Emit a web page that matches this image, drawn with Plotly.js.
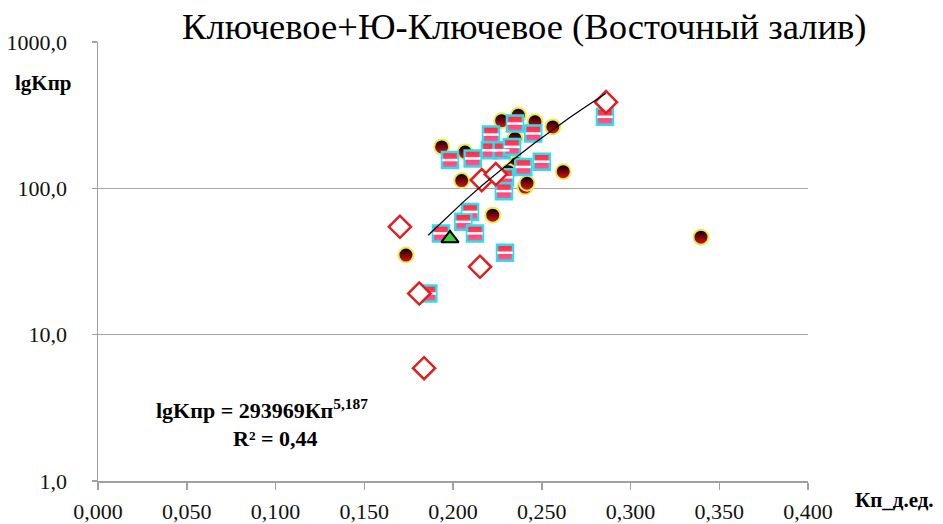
<!DOCTYPE html>
<html>
<head>
<meta charset="utf-8">
<script src="https://cdn.plot.ly/plotly-3.0.1.min.js"></script>
<style>html,body{margin:0;padding:0;background:#fff;}#chart{width:943px;height:524px;}</style>
</head>
<body>
<div id="chart"></div>
<script>
// Series 1: black circles
var circX = [0.1936, 0.2068, 0.2049, 0.2274, 0.2368, 0.2462, 0.2562, 0.2349, 0.2359, 0.2621, 0.2406, 0.2417, 0.2224, 0.1735, 0.3397, 0.2312];
var circY = [192, 177, 113, 290, 316, 285, 263, 219, 148, 130, 102, 108.5, 65.6, 35, 46.4, 130];
// Series 2: striped squares
var sqX = [0.1983, 0.2111, 0.2214, 0.2208, 0.2274, 0.2332, 0.2349, 0.2452, 0.2396, 0.2500, 0.2293, 0.2287, 0.2856, 0.2096, 0.2058, 0.2124, 0.1932, 0.2293, 0.1861];
var sqY = [156, 160, 233, 182, 182, 192, 277, 237, 140, 152, 119, 95.7, 308, 69, 59, 49.2, 49.2, 36.3, 19.1];
// Series 3: red open diamonds
var diaX = [0.1701, 0.2152, 0.1810, 0.1837, 0.2162, 0.2241, 0.2862];
var diaY = [54.6, 29.1, 19.1, 5.9, 113.8, 125, 388];
// Series 4: green triangle
var triX = [0.1983];
var triY = [45.5];
// Power trendline from the chart's own equation: lgKпр = 293969·Кп^5,187
var trendA = 293969, trendB = 5.187;
var trendX = [0.186, 0.196, 0.206, 0.216, 0.226, 0.236, 0.246, 0.256, 0.266, 0.276, 0.286];
var trendY = trendX.map(function (x) { return trendA * Math.pow(x, trendB); });

var yTickVals = [1, 10, 100, 1000];
var yTickText = ['1,0', '10,0', '100,0', '1000,0'];
var xTickVals = [0, 0.05, 0.1, 0.15, 0.2, 0.25, 0.3, 0.35, 0.4];

var serif = "'Liberation Serif', 'DejaVu Serif', serif";

var traces = [
  {x: circX, y: circY, type: 'scatter', mode: 'markers',
   marker: {symbol: 'circle', size: 15, color: '#000000',
            gradient: {type: 'vertical', color: '#e8101a'},
            line: {color: '#e2ee58', width: 2}}},
  {x: sqX, y: sqY, type: 'scatter', mode: 'markers',
   marker: {symbol: 'square', size: 16, color: '#ff2a3a',
            gradient: {type: 'vertical', color: '#ff5a9a'},
            line: {color: '#30dcec', width: 2.5}}},
  {x: sqX, y: sqY, type: 'scatter', mode: 'markers',
   marker: {symbol: 'line-ew', size: 11, line: {color: '#ffffff', width: 2.5}}},
  {x: diaX, y: diaY, type: 'scatter', mode: 'markers',
   marker: {symbol: 'diamond', size: 17, color: '#ffffff',
            line: {color: '#e01e1e', width: 2.5}}},
  {x: triX, y: triY, type: 'scatter', mode: 'markers',
   marker: {symbol: 'triangle-up', size: 15, color: '#3cd23c',
            line: {color: '#000000', width: 2}}},
  {x: trendX, y: trendY, type: 'scatter', mode: 'lines',
   line: {color: '#000000', width: 1.2}}
];

var layout = {
  width: 943, height: 524,
  margin: {l: 98, r: 135, t: 42, b: 43},
  paper_bgcolor: '#ffffff', plot_bgcolor: '#ffffff',
  showlegend: false,
  separators: ', ',
  font: {family: serif, color: '#111111', size: 22},
  title: {text: 'Ключевое+Ю-Ключевое (Восточный залив)',
          font: {family: serif, size: 36.6, color: '#000000'},
          xref: 'container', yref: 'container', x: 0.556, xanchor: 'center',
          y: 0.95, yanchor: 'middle'},
  xaxis: {type: 'linear', range: [0, 0.4], tickvals: xTickVals, tickformat: '.3f',
          showgrid: false, zeroline: false, showline: true, linecolor: '#a0a0a0', linewidth: 1.5,
          ticks: 'outside', ticklen: 7, tickcolor: '#a0a0a0', tickwidth: 1.5,
          ticklabelstandoff: 3,
          tickfont: {family: serif, size: 22, color: '#111111'}},
  yaxis: {type: 'log', range: [0, 3], tickvals: yTickVals, ticktext: yTickText,
          showgrid: true, gridcolor: '#a6a6a6', gridwidth: 1.5, zeroline: false,
          showline: true, linecolor: '#a0a0a0', linewidth: 1.5,
          ticks: 'outside', ticklen: 5, tickcolor: '#a0a0a0', tickwidth: 1.5,
          ticklabelstandoff: 20,
          tickfont: {family: serif, size: 22, color: '#111111'}},
  annotations: [
    {text: '<b>lgKпр</b>', xref: 'paper', yref: 'paper', x: -0.12, y: 0.906,
     xanchor: 'left', yanchor: 'middle', showarrow: false,
     font: {family: serif, size: 21, color: '#000000'}},
    {text: '<b>Кп_д.ед.</b>', xref: 'paper', yref: 'paper', x: 1.064, y: -0.043,
     xanchor: 'left', yanchor: 'middle', showarrow: false,
     font: {family: serif, size: 21, color: '#000000'}},
    {text: '<b>lgKпр = 293969Кп<sup>5,187</sup></b>', xref: 'paper', yref: 'paper',
     x: (262 - 98) / 710, y: (481 - 409) / 439, xanchor: 'center', yanchor: 'middle', showarrow: false,
     font: {family: serif, size: 22, color: '#000000'}},
    {text: '<b>R² = 0,44</b>', xref: 'paper', yref: 'paper',
     x: (275 - 98) / 710, y: (481 - 438) / 439, xanchor: 'center', yanchor: 'middle', showarrow: false,
     font: {family: serif, size: 22, color: '#000000'}}
  ]
};

Plotly.newPlot('chart', traces, layout, {displayModeBar: false, staticPlot: true});
</script>
</body>
</html>
